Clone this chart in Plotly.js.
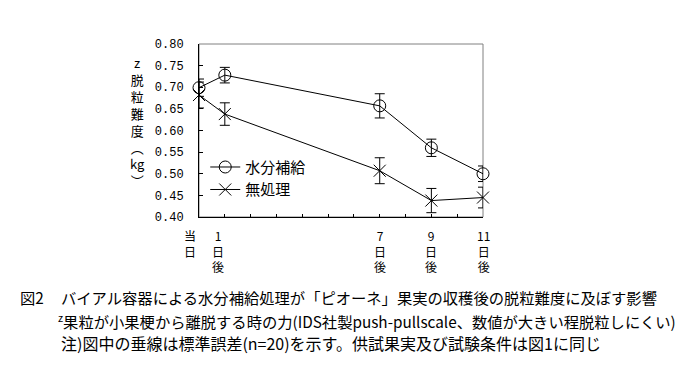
<!DOCTYPE html>
<html><head><meta charset="utf-8">
<script src="https://cdn.plot.ly/plotly-3.0.1.min.js"></script>
<style>html,body{margin:0;padding:0;background:#fff}#c{width:694px;height:369px}</style>
</head><body><div id="c"></div>
<script>
const days = [0, 1, 7, 9, 11];
const seriesNames = ['水分補給', '無処理'];
const waterVals = [0.699, 0.728, 0.657, 0.560, 0.500];
const waterErr = [0.020, 0.018, 0.028, 0.020, 0.018];
const controlVals = [0.682, 0.638, 0.507, 0.438, 0.445];
const controlErr = [0.030, 0.026, 0.030, 0.028, 0.024];
const xTickVals = [-0.36, 0.73, 7, 9, 11];
const xTickText = ['当<br>日', '1<br>日<br>後', '7<br>日<br>後', '9<br>日<br>後', '11<br>日<br>後'];
const yTickVals = [0.40, 0.45, 0.50, 0.55, 0.60, 0.65, 0.70, 0.75, 0.80];
const yTitleText = 'z<br>脱<br>粒<br>難<br>度<br>︵<br>kg<br>︶';
const captionLines = [
  '図2',
  'バイアル容器による水分補給処理が「ピオーネ」果実の収穫後の脱粒難度に及ぼす影響',
  '<sup>z</sup>果粒が小果梗から離脱する時の力(IDS社製push-pullscale、数値が大きい程脱粒しにくい)',
  '注)図中の垂線は標準誤差(n=20)を示す。供試果実及び試験条件は図1に同じ'
];

const CJK = '"Noto Sans CJK JP", sans-serif';
const MONO = '"Liberation Mono", monospace';
const X_MAX = 11;

const errStyle = {type: 'data', visible: true, thickness: 1, width: 5, color: '#000'};
const traces = [
  {x: days, y: waterVals, name: seriesNames[0], type: 'scatter', mode: 'lines+markers', cliponaxis: false,
   line: {color: '#000', width: 1},
   marker: {symbol: 'circle-open', size: 12, color: '#000', line: {width: 1, color: '#000'}},
   error_y: Object.assign({array: waterErr}, errStyle)},
  {x: days, y: controlVals, name: seriesNames[1], type: 'scatter', mode: 'lines+markers', cliponaxis: false,
   line: {color: '#000', width: 1},
   marker: {symbol: 'x-thin-open', size: 12, color: '#000', line: {width: 1, color: '#000'}},
   error_y: Object.assign({array: controlErr}, errStyle)}
];

const annotations = [];
xTickVals.forEach((v, i) => annotations.push({
  x: v / X_MAX, xref: 'paper', y: 0, yref: 'paper', yshift: -8, yanchor: 'top', xanchor: 'center',
  text: xTickText[i], showarrow: false, align: 'center',
  font: {family: CJK, size: 12, color: '#000'}
}));
annotations.push({x: -0.215, xref: 'paper', y: 0.553, yref: 'paper', text: yTitleText,
  showarrow: false, align: 'center', xanchor: 'center', yanchor: 'middle',
  font: {family: CJK, size: 13, color: '#000'}});
annotations.push({x: -0.637, xref: 'paper', y: -0.46, yref: 'paper', text: captionLines[0],
  showarrow: false, xanchor: 'left', yanchor: 'middle', font: {family: CJK, size: 15.3, color: '#000'}});
annotations.push({x: -0.492, xref: 'paper', y: -0.46, yref: 'paper', text: captionLines[1],
  showarrow: false, xanchor: 'left', yanchor: 'middle', font: {family: CJK, size: 15.3, color: '#000'}});
annotations.push({x: -0.502, xref: 'paper', y: -0.60, yref: 'paper', text: captionLines[2],
  showarrow: false, xanchor: 'left', yanchor: 'middle', font: {family: CJK, size: 15.3, color: '#000'}});
annotations.push({x: -0.492, xref: 'paper', y: -0.73, yref: 'paper', text: captionLines[3],
  showarrow: false, xanchor: 'left', yanchor: 'middle', font: {family: CJK, size: 16, color: '#000'}});

const layout = {
  width: 694, height: 369,
  margin: {l: 199, r: 211, t: 44, b: 152},
  paper_bgcolor: '#fff', plot_bgcolor: '#fff',
  showlegend: true,
  legend: {x: 0.022, y: 0.383, xanchor: 'left', yanchor: 'top', bgcolor: 'rgba(0,0,0,0)',
    font: {family: CJK, size: 15, color: '#000'}, tracegroupgap: 0, itemwidth: 30},
  xaxis: {range: [0, X_MAX], showgrid: false, zeroline: false, showline: true, linecolor: '#000', linewidth: 1,
    ticks: 'inside', ticklen: 3, tickcolor: '#000', dtick: 1, tick0: 0, showticklabels: false},
  yaxis: {range: [0.40, 0.80], showgrid: false, zeroline: false, showline: true, linecolor: '#000', linewidth: 1,
    ticks: 'inside', ticklen: 4, tickcolor: '#000', tickvals: yTickVals, tickformat: '.2f',
    tickfont: {family: MONO, size: 12, color: '#000'}, ticklabelstandoff: 12},
  shapes: [{type: 'rect', xref: 'paper', yref: 'paper', x0: 0, x1: 1, y0: 0, y1: 1,
    line: {color: '#808080', width: 1}, layer: 'below'}],
  annotations: annotations
};
Plotly.newPlot('c', traces, layout, {displayModeBar: false, staticPlot: true});
</script></body></html>
